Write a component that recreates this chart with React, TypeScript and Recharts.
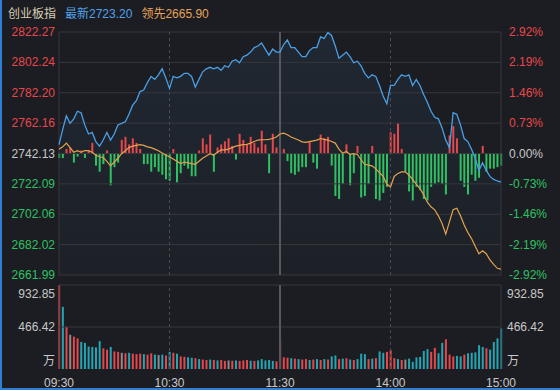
import React from "react";
import {
  ComposedChart,
  Area,
  Line,
  Bar,
  Cell,
  XAxis,
  YAxis,
  ReferenceLine,
} from "recharts";

const BG = "#1c1d22";
const GRID = "#36373c";
const UP = "#e8474c";
const DOWN = "#2ec262";
const FLAT = "#c8c8c8";
const FONT = "'Liberation Sans', 'Noto Sans CJK SC', sans-serif";

const preClose = 2742.13;
const priceTicks = [2661.99, 2682.02, 2702.06, 2722.09, 2742.13, 2762.16, 2782.2, 2802.24, 2822.27];
const timeTicks = [0, 60, 120, 180, 240];
const timeLabels = ["09:30", "10:30", "11:30", "14:00", "15:00"];
const volTicks = [0, 466.42, 932.85];

// one point every 2 minutes, 09:30 -> 15:00 (lunch break folded out)
const price = [
  2748, 2758, 2767, 2762, 2765, 2770, 2769, 2761, 2755, 2756,
  2750, 2747, 2751, 2756, 2751, 2755, 2761, 2762, 2763, 2768,
  2774, 2777, 2783, 2784, 2789, 2793, 2791, 2794, 2798, 2792,
  2785, 2793, 2792, 2793, 2795, 2795, 2793, 2786, 2791, 2796,
  2798, 2799, 2798, 2799, 2797, 2800, 2799, 2803, 2804, 2802,
  2806, 2807, 2809, 2812, 2813, 2815, 2811, 2807, 2811, 2809,
  2809, 2814, 2817, 2812, 2812, 2809, 2806, 2806, 2810, 2812,
  2812, 2819, 2818, 2822, 2820, 2813, 2805, 2807, 2809, 2806,
  2802, 2803, 2800, 2795, 2792, 2794, 2793, 2787, 2780, 2775,
  2787, 2787, 2791, 2794, 2793, 2794, 2787, 2791, 2787, 2781,
  2776, 2770, 2766, 2765, 2759, 2751, 2746, 2769, 2768, 2761,
  2752, 2750, 2745, 2739, 2731, 2736, 2731, 2727, 2725, 2724,
  2723.2,
];

const lead = [
  2745, 2746.5, 2749, 2746, 2743, 2744, 2743, 2744, 2744, 2743,
  2741, 2740, 2739.5, 2737, 2734, 2736.5, 2739, 2742, 2744, 2746,
  2747, 2747.5, 2748, 2747.5, 2746.5, 2746, 2745, 2744, 2742.5, 2741,
  2740, 2738.5, 2737, 2735.5, 2736.5, 2736, 2735.5, 2735, 2737, 2739,
  2740.5, 2742, 2741, 2743, 2744.5, 2744.5, 2745, 2746, 2747, 2747.5,
  2748, 2748.2, 2749, 2750, 2751, 2751.2, 2751.2, 2751.5, 2752, 2753,
  2755, 2755.5, 2754.5, 2753, 2752, 2751, 2749.8, 2749.5, 2750, 2750.5,
  2751, 2752, 2751.5, 2751, 2750, 2749, 2745, 2742.3, 2743.5, 2741.5,
  2742, 2741.5, 2738, 2735, 2734.5, 2734, 2732, 2729.5, 2727, 2722,
  2720, 2727, 2729, 2730, 2730, 2728, 2725, 2722, 2719, 2715,
  2710, 2707, 2705, 2701, 2696, 2689, 2697, 2705, 2706, 2701,
  2695, 2690, 2686, 2681, 2676, 2678, 2676, 2672, 2669, 2666.4,
  2665.9,
];

// red/green strength bars around the pre-close line (index points)
const diff = [
  -3, -3, 3, 4, -6, -2, 2, -3, 2, 7,
  -8, -12, -7, 2, -21, -9, -6, 9, 11, 6,
  10, 7, 3, -7, -7, -12, -9, -12, -14, -17,
  -18, 3, -19, -13, -8, -10, -15, -15, 2, 10,
  6, 12.5, -12, 4, 6, 8, 10, 5, -4, 13,
  9, 6, 11, 7, 4, 15, 6, -13, 13, 4,
  2, 3, -5, -13, -14, -12, -9, -9, 8, -6,
  -10, 12.5, 10, 11, -8, -28, -30, -20, 6, -21,
  -13, 5, -29, -28, -20, 5, -30, -31, -26, -22,
  14, 13, 20, 3, -12, -25, -31, -22, -24, -30,
  -31, -22, -20, -19, -20, -27, 12, 18, 10, -18,
  -22, -27, -14, -18, -16, 5, -12, -10, -10, -9,
  -8,
];

const volume = [
  950, 690, 470, 380, 360, 340, 300, 290, 250, 245,
  240, 310, 230, 215, 245, 195, 190, 180, 175, 180,
  170, 165, 170, 165, 160, 175, 160, 155, 160, 150,
  190, 180, 170, 140, 135, 130, 125, 120, 110, 105,
  100, 105, 100, 95, 100, 90, 95, 92, 95, 90,
  95, 100, 92, 90, 95, 110, 95, 100, 90, 85,
  315, 130, 125, 120, 115, 110, 105, 110, 100, 105,
  110, 100, 110, 105, 140, 150, 110, 115, 120, 105,
  100, 110, 170, 165, 110, 115, 120, 195, 180, 190,
  210, 120, 110, 100, 105, 115, 80, 130, 135, 200,
  220, 190, 235, 175, 290, 330, 160, 140, 145, 140,
  160, 175, 180, 185, 265, 245, 230, 215, 300, 340,
  450,
];

// r = up, g = down, w = flat
const volSide = (
  "rgrwrrgggg" + "ggrrgrrwrg" + "rrrgrrgwgr" + "grgrrggrgr" +
  "rgrgrrwrgr" + "rrgrgggggr" + "rrrgrgrrgr" + "grgrggrgrg" +
  "rgggrgrggr" + "rrgrwggggg" + "grrggrrrgg" + "rgggggrggg" + "g"
).split("");

const rows = price.map((p, i) => ({
  m: i * 2,
  price: p,
  lead: lead[i],
  diff: diff[i],
  vol: volume[i],
  side: volSide[i],
}));

const volColors: Record<string, string> = { r: "#e5474d", g: "#22a6b3", w: "#8c8c8c" };

const priceColor = (v: number) =>
  Math.abs(v - preClose) < 0.01 ? FLAT : v > preClose ? UP : DOWN;

const PriceTick = ({ y, payload }: any) => (
  <text x={55} y={y} dy={4} textAnchor="end" fontSize={12} fontFamily={FONT} fill={priceColor(payload.value)}>
    {payload.value.toFixed(2)}
  </text>
);

const PctTick = ({ y, payload }: any) => {
  const pct = ((payload.value - preClose) / preClose) * 100;
  return (
    <text x={509} y={y} dy={4} textAnchor="start" fontSize={12} fontFamily={FONT} fill={priceColor(payload.value)}>
      {pct.toFixed(2) + "%"}
    </text>
  );
};

const volLabel = (v: number) => (v === 0 ? "万" : v.toFixed(2));
const volDy = (v: number) => (v === 0 ? -4 : v > 900 ? 13 : 4);

const VolTickL = ({ y, payload }: any) => (
  <text x={55} y={y} dy={volDy(payload.value)} textAnchor="end" fontSize={12} fontFamily={FONT} fill={FLAT}>
    {volLabel(payload.value)}
  </text>
);

const VolTickR = ({ y, payload }: any) => (
  <text x={507} y={y} dy={volDy(payload.value)} textAnchor="start" fontSize={12} fontFamily={FONT} fill={FLAT}>
    {volLabel(payload.value)}
  </text>
);

const TimeTick = ({ x, y, payload }: any) => (
  <text x={x} y={y} dy={10} textAnchor="middle" fontSize={12} fontFamily={FONT} fill={FLAT}>
    {timeLabels[timeTicks.indexOf(payload.value)]}
  </text>
);

const vLines = (axisId: string) => [
  <ReferenceLine key="l" yAxisId={axisId} x={0} stroke={GRID} />,
  <ReferenceLine key="a" yAxisId={axisId} x={60} stroke="#4a4b50" strokeDasharray="3 3" />,
  <ReferenceLine key="b" yAxisId={axisId} x={120} stroke="#57585e" strokeWidth={2} />,
  <ReferenceLine key="c" yAxisId={axisId} x={180} stroke="#4a4b50" strokeDasharray="3 3" />,
  <ReferenceLine key="r" yAxisId={axisId} x={240} stroke={GRID} />,
];

export default function App() {
  return (
    <div
      style={{
        position: "absolute",
        left: 0,
        top: 0,
        width: 560,
        height: 390,
        background: BG,
        fontFamily: FONT,
        boxSizing: "border-box",
        borderLeft: "2px solid #2f7fd6",
        borderBottom: "2px solid #2f7fd6",
        overflow: "hidden",
      }}
    >
      <div style={{ position: "absolute", left: 6, top: 4, fontSize: 12, whiteSpace: "nowrap" }}>
        <span style={{ color: "#d8ceb2" }}>创业板指</span>
        <span style={{ color: "#4ea3ea", marginLeft: 9 }}>最新2723.20</span>
        <span style={{ color: "#e6a357", marginLeft: 9 }}>领先2665.90</span>
      </div>

      <div style={{ position: "absolute", left: -2, top: 0 }}>
        <ComposedChart width={560} height={290} data={rows} margin={{ top: 32, right: 0, bottom: 15, left: 0 }}>
          <defs>
            <linearGradient id="priceFill" x1="0" y1="0" x2="0" y2="1">
              <stop offset="0" stopColor="#4a9fe6" stopOpacity={0.14} />
              <stop offset="1" stopColor="#4a9fe6" stopOpacity={0.04} />
            </linearGradient>
          </defs>
          <XAxis dataKey="m" type="number" domain={[0, 240]} hide />
          <YAxis
            yAxisId="p"
            domain={[2661.99, 2822.27]}
            ticks={priceTicks}
            interval={0}
            width={59}
            axisLine={false}
            tickLine={false}
            tick={PriceTick}
            allowDataOverflow
          />
          <YAxis
            yAxisId="pct"
            orientation="right"
            domain={[2661.99, 2822.27]}
            ticks={priceTicks}
            interval={0}
            width={59}
            axisLine={false}
            tickLine={false}
            tick={PctTick}
            allowDataOverflow
          />
          <YAxis yAxisId="d" domain={[-80.14, 80.14]} hide allowDataOverflow />
          {priceTicks.map((v) => (
            <ReferenceLine key={v} yAxisId="p" y={v} stroke={GRID} />
          ))}
          {vLines("p")}
          <Area
            yAxisId="p"
            dataKey="price"
            stroke="none"
            fill="url(#priceFill)"
            isAnimationActive={false}
          />
          <Bar yAxisId="d" dataKey="diff" barSize={2} isAnimationActive={false}>
            {rows.map((r, i) => (
              <Cell key={i} fill={r.diff >= 0 ? UP : DOWN} />
            ))}
          </Bar>
          <Line yAxisId="p" dataKey="lead" stroke="#e3a24f" strokeWidth={1.2} dot={false} isAnimationActive={false} />
          <Line yAxisId="p" dataKey="price" stroke="#4a9fe6" strokeWidth={1.3} dot={false} isAnimationActive={false} />
        </ComposedChart>
      </div>

      <div style={{ position: "absolute", left: -2, top: 275 }}>
        <ComposedChart width={560} height={115} data={rows} margin={{ top: 10, right: 0, bottom: 0, left: 0 }}>
          <XAxis
            dataKey="m"
            type="number"
            domain={[0, 240]}
            ticks={timeTicks}
            interval={0}
            height={21}
            axisLine={false}
            tickLine={false}
            tick={TimeTick}
          />
          <YAxis
            yAxisId="v"
            domain={[0, 932.85]}
            ticks={volTicks}
            interval={0}
            width={59}
            axisLine={false}
            tickLine={false}
            tick={VolTickL}
            allowDataOverflow
          />
          <YAxis
            yAxisId="v2"
            orientation="right"
            domain={[0, 932.85]}
            ticks={volTicks}
            interval={0}
            width={59}
            axisLine={false}
            tickLine={false}
            tick={VolTickR}
            allowDataOverflow
          />
          <ReferenceLine yAxisId="v" y={932.85} stroke={GRID} />
          <ReferenceLine yAxisId="v" y={466.42} stroke={GRID} />
          {vLines("v")}
          <Bar yAxisId="v" dataKey="vol" barSize={2} isAnimationActive={false}>
            {rows.map((r, i) => (
              <Cell key={i} fill={volColors[r.side]} />
            ))}
          </Bar>
        </ComposedChart>
      </div>
    </div>
  );
}
